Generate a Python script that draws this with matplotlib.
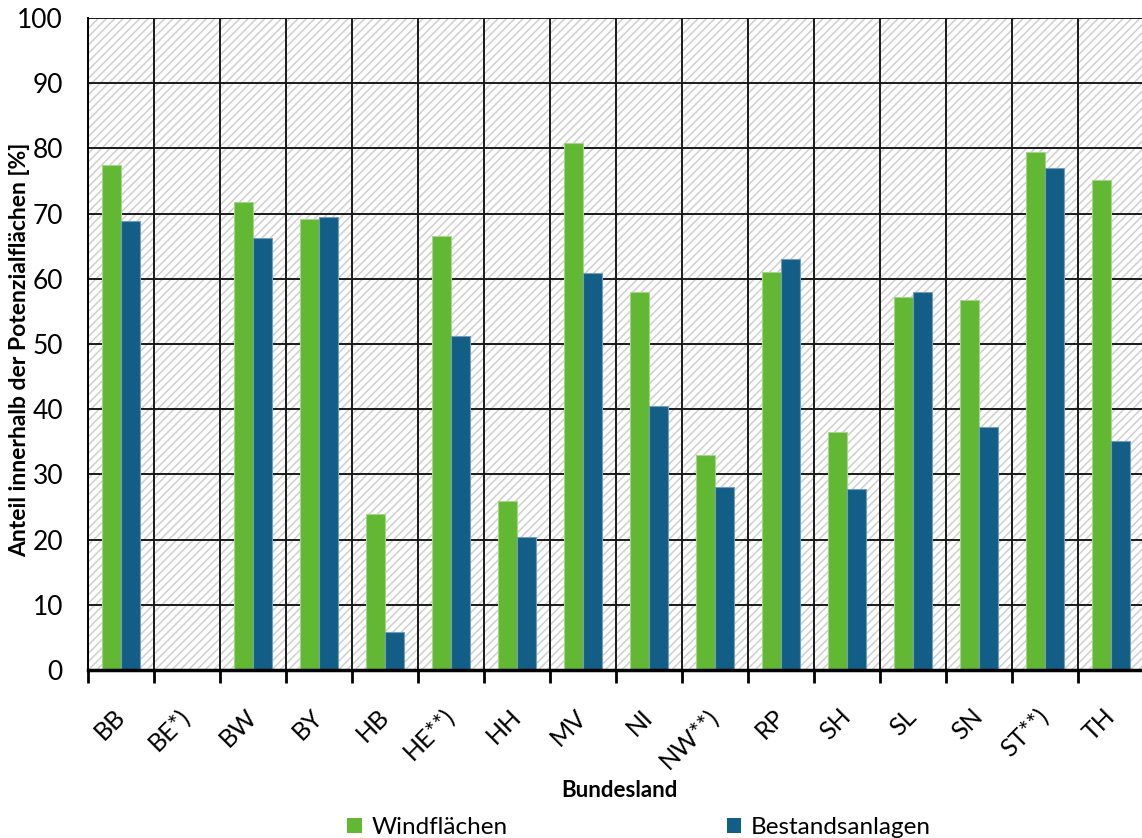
import matplotlib.pyplot as plt
import numpy as np
from matplotlib.patches import Patch, Rectangle

plt.rcParams['font.family'] = ['Lato', 'DejaVu Sans']
plt.rcParams['hatch.linewidth'] = 1.1
plt.rcParams['hatch.color'] = '#cfcfcf'

# Anteile je Bundesland in %
laender = ["BB", "BE*)", "BW", "BY", "HB", "HE**)", "HH", "MV",
           "NI", "NW**)", "RP", "SH", "SL", "SN", "ST**)", "TH"]
windflaechen = [77.5, 0, 71.8, 69.1, 24.0, 66.6, 25.9, 80.8,
                58.0, 32.9, 61.1, 36.5, 57.2, 56.8, 79.5, 75.2]
bestandsanlagen = [68.9, 0, 66.3, 69.5, 5.8, 51.3, 20.4, 60.9,
                   40.5, 28.0, 63.1, 27.7, 57.9, 37.2, 77.0, 35.1]

gruen = '#62b833'
blau = '#135e86'

fig = plt.figure(figsize=(11.42, 8.38), dpi=100)
ax = fig.add_axes([88 / 1142, 168 / 838, 1056 / 1142, 652 / 838])

# schraffierter Hintergrund
ax.add_patch(Rectangle((0, 0), 1, 1, transform=ax.transAxes, facecolor='white',
                       hatch='////', edgecolor='#cfcfcf', linewidth=0, zorder=0))

x = np.arange(len(laender))
w = 0.29
ax.bar(x - w / 2, windflaechen, w, color=gruen, edgecolor='#a3d68a',
       linewidth=0.8, zorder=3, label='Windflächen')
ax.bar(x + w / 2, bestandsanlagen, w, color=blau, edgecolor='#6f9dba',
       linewidth=0.8, zorder=3, label='Bestandsanlagen')

ax.set_xlim(-0.5, len(laender) - 0.5)
ax.set_ylim(0, 100)
ax.set_yticks(range(0, 101, 10))
ax.tick_params(axis='y', length=0, pad=18, labelsize=19)

ax.set_xticks(x)
ax.set_xticklabels(laender, rotation=45, ha='right', va='center',
                   rotation_mode='anchor', fontsize=18)
ax.tick_params(axis='x', which='major', length=0, pad=31)
ax.set_xticks(np.arange(-0.5, len(laender), 1), minor=True)
ax.tick_params(axis='x', which='minor', length=9, width=2, color='black')

ax.grid(True, axis='y', color='#1a1a1a', linewidth=1.4, zorder=1)
ax.grid(True, axis='x', which='minor', color='#1a1a1a', linewidth=1.4, zorder=1)
ax.grid(False, axis='x', which='major')
ax.set_axisbelow(True)

for s in ['top', 'right']:
    ax.spines[s].set_visible(False)
ax.spines['left'].set_linewidth(1.4)
ax.spines['bottom'].set_linewidth(2.5)
ax.spines['bottom'].set_zorder(5)

fig.text(20 / 1142, 1 - 350 / 838, 'Anteil innerhalb der Potenzialflächen [%]',
         rotation=90, ha='center', va='center', fontsize=16.5, fontweight='bold')
fig.text(619 / 1142, 1 - 790 / 838, 'Bundesland', ha='center', va='center',
         fontsize=16, fontweight='bold')

handles = [Patch(facecolor=gruen, label='Windflächen'),
           Patch(facecolor=blau, label='Bestandsanlagen')]
fig.legend(handles=handles, loc='center', bbox_to_anchor=(0.5596, 0.0125),
           ncol=2, frameon=False, fontsize=17.5, handlelength=0.6,
           handleheight=0.6, handletextpad=0.4, columnspacing=9.0,
           borderpad=0)

fig.savefig('out.png', dpi=100)
